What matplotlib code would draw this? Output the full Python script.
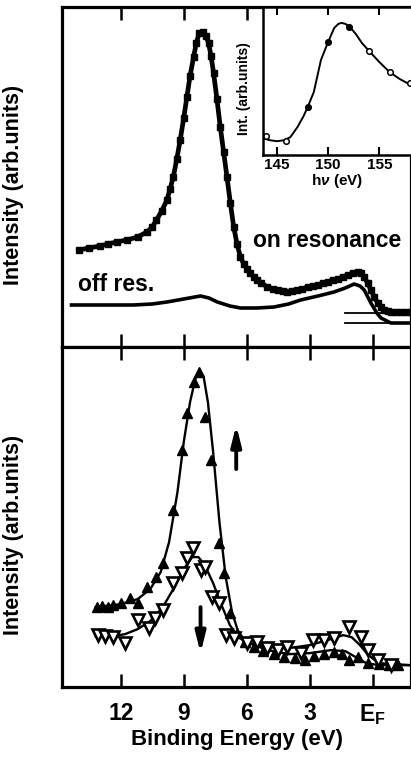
import matplotlib.pyplot as plt
import numpy as np

plt.rcParams['font.family'] = ['Liberation Sans', 'DejaVu Sans']
plt.rcParams['font.weight'] = 'bold'
plt.rcParams['mathtext.fontset'] = 'custom'
plt.rcParams['mathtext.rm'] = 'Liberation Sans:bold'
plt.rcParams['mathtext.bf'] = 'Liberation Sans:bold'
plt.rcParams['mathtext.it'] = 'Liberation Sans:bold:italic'

# upper panel: on / off resonance spectra (binding energy, intensity)
on_e = [14.0, 13.5, 13.0, 12.6, 12.2, 11.7, 11.2, 10.75, 10.5, 10.3, 10.05, 9.8, 9.65,
        9.5, 9.33, 9.17, 9.0, 8.85, 8.7, 8.53, 8.4, 8.26, 8.06, 7.94, 7.82, 7.7, 7.58,
        7.42, 7.26, 7.1, 6.94, 6.78, 6.62, 6.46, 6.3, 6.14, 5.98, 5.82, 5.66, 5.5,
        5.3, 5.02, 4.75, 4.5, 4.28, 4.06, 3.83, 3.6, 3.35, 3.1, 2.85, 2.6, 2.37,
        2.14, 1.9, 1.65, 1.42, 1.18, 0.95, 0.7, 0.55, 0.4, 0.24, 0.08, -0.08, -0.25,
        -0.4, -0.55, -0.72, -0.9, -1.1, -1.35, -1.6, -1.83]
on_i = [97, 99, 101, 103, 105, 107, 110, 115, 120, 127, 136, 147, 158,
        170, 188, 207, 229, 250, 271, 290, 304, 314, 315, 311, 304, 291, 274,
        248, 220, 195, 170, 144, 120, 103, 90, 83, 78, 74, 70, 67,
        64, 60, 58, 57, 56, 55, 56, 57, 58, 60, 61, 62, 64,
        65, 67, 68, 70, 72, 74, 75, 74, 70, 64, 57, 50, 44,
        40, 37, 36, 35, 35, 35, 35, 35]
off_e = [14.35, 12.5, 11.4, 10.5, 9.8, 9.0, 8.2, 7.8, 7.4, 6.8, 6.3, 5.5, 4.7,
         4.0, 3.43, 2.6, 1.84, 1.3, 0.88, 0.6, 0.4, 0.08, -0.2, -0.4, -0.87, -1.83]
off_i = [42, 42, 42, 43, 45, 48, 51, 49, 45, 41, 39, 39, 40,
         43, 47, 51, 55, 59, 63, 61, 57, 44, 34, 29, 24, 24]
base_e = [1.3, -1.83]
base_on = [34, 34]
base_off = [24, 24]

# inset: resonance intensity vs photon energy
hv_pts = [143.9, 145.9, 148.0, 150.0, 152.0, 154.0, 156.0, 158.0]
int_pts = [19, 14, 48, 113, 128, 104, 83, 72]
filled_pts = [False, False, True, True, True, False, False, False]
hv_fit = [143.6, 144.3, 145.0, 145.7, 146.3, 147.0, 147.6, 148.0, 148.6, 149.3, 150.0,
          150.6, 151.0, 151.3, 151.7, 152.2, 152.7, 153.3, 154.0, 155.0, 156.0, 157.0,
          158.1]
int_fit = [17, 15, 14, 15, 18, 28, 39, 48, 63, 95, 113,
           127, 131, 132, 131, 127, 121, 112, 104, 93, 83, 76,
           70]

# lower panel: filled (up) and open (down) triangles
up_e = [13.15, 12.9, 12.6, 12.35, 12.0, 11.55, 11.17, 10.75, 10.3, 9.98, 9.5, 9.1,
        8.85, 8.53, 8.28, 7.97, 7.7, 7.33, 7.1, 6.78, 6.45, 6.1, 5.66, 5.2, 4.7,
        4.2, 3.7, 3.2, 2.8, 2.3, 1.84, 1.45, 1.12, 0.7, 0.2, -0.3, -0.8, -1.2]
up_i = [80, 81, 80, 82, 84, 89, 84, 100, 110, 124, 177, 237,
        274, 305, 315, 270, 227, 144, 114, 74, 54, 45, 40, 36, 33,
        30, 29, 27, 31, 33, 35, 33, 27, 30, 24, 23, 22, 22]
dn_e = [13.1, 12.75, 12.35, 11.8, 11.2, 10.68, 10.35, 9.98, 9.5, 9.1, 8.85, 8.58,
        8.2, 7.97, 7.65, 7.33, 7.0, 6.62, 5.98, 5.5, 5.02, 4.5, 4.06, 3.43,
        2.85, 2.3, 1.84, 1.12, 0.55, 0.2, -0.25, -0.87]
dn_i = [52, 51, 50, 44, 67, 59, 69, 77, 104, 114, 129, 139,
        117, 120, 90, 84, 52, 49, 44, 45, 39, 37, 40, 34,
        47, 47, 49, 60, 50, 37, 27, 22]
up_fit_e = [13.2, 12.0, 11.2, 10.6, 10.1, 9.7, 9.3, 9.0, 8.7, 8.45, 8.25, 8.05,
            7.85, 7.6, 7.3, 7.0, 6.7, 6.4, 6.0, 5.0, 4.0, 3.0, 2.0, 1.3, 0.8,
            0.3, -0.3, -1.83]
up_fit_i = [80, 83, 88, 98, 115, 145, 195, 245, 285, 308, 317, 310,
            285, 235, 165, 110, 75, 55, 45, 37, 33, 34, 37, 36, 30,
            24, 22, 22]
dn_fit_e = [13.2, 12.4, 11.8, 11.2, 10.6, 10.0, 9.5, 9.0, 8.6, 8.3, 8.0, 7.6,
            7.2, 6.8, 6.4, 6.0, 5.0, 4.0, 3.0, 2.0, 1.4, 1.0, 0.6, 0.2, -0.3, -1.83]
dn_fit_i = [51, 51, 53, 58, 66, 80, 98, 118, 130, 130, 122, 104,
            82, 62, 50, 45, 40, 39, 42, 48, 52, 50, 42, 32, 24, 22]

e_ticks = [12, 9, 6, 3, 0]
e_labels = ['12', '9', '6', '3', r'$\mathbf{E_F}$']
hv_ticks = [145, 150, 155]

fig = plt.figure(figsize=(4.11, 7.61), dpi=100)
ax1 = fig.add_axes([0.151, 0.544, 0.849, 0.447])
ax2 = fig.add_axes([0.151, 0.097, 0.849, 0.447])
ins = fig.add_axes([0.639, 0.796, 0.361, 0.195])

for ax in (ax1, ax2):
    ax.set_xlim(14.8, -1.83)
    ax.set_ylim(0, 340)
    ax.set_yticks([])
    ax.set_xticks(e_ticks)
    for s in ax.spines.values():
        s.set_linewidth(2.3)
    ax.tick_params(axis='x', direction='in', length=9.5, width=1.8,
                   top=True, labelsize=16.5, pad=11)
    ax.set_ylabel('Intensity (arb.units)', fontsize=15.5, fontweight='bold')

ax1.tick_params(axis='x', labelbottom=False)
ax1.yaxis.set_label_coords(-0.108, 0.476)
ax2.yaxis.set_label_coords(-0.108, 0.447)
ax2.set_xticklabels(e_labels)
ax2.set_xlabel('Binding Energy (eV)', fontsize=16, fontweight='bold', labelpad=1)

# upper panel
ax1.plot(base_e, base_on, color='black', lw=1.3)
ax1.plot(base_e, base_off, color='black', lw=1.3)
ax1.plot(off_e, off_i, color='black', lw=2.6)
ax1.plot(on_e, on_i, color='black', lw=3.4, marker='s', ms=4)
ax1.text(5.68, 106, 'on resonance', fontsize=16.5, fontweight='bold', va='center')
ax1.text(14.05, 62, 'off res.', fontsize=16.5, fontweight='bold', va='center')

# lower panel
ax2.plot(up_fit_e, up_fit_i, color='black', lw=1.7)
ax2.plot(dn_fit_e, dn_fit_i, color='black', lw=1.7)
ax2.plot(up_e, up_i, ls='none', marker='^', ms=7.5, color='black')
ax2.plot(dn_e, dn_i, ls='none', marker='v', ms=8, mfc='white', mec='black', mew=1.9)
arrow = dict(arrowstyle='-|>,head_length=1.2,head_width=0.3',
             color='black', lw=2.8, mutation_scale=10, shrinkA=0, shrinkB=0)
ax2.annotate('', xy=(6.5, 262), xytext=(6.5, 218), arrowprops=arrow)
ax2.annotate('', xy=(8.2, 34), xytext=(8.2, 80), arrowprops=arrow)

# inset
ins.set_xlim(143.6, 158.1)
ins.set_ylim(0, 148)
ins.set_yticks([])
ins.set_xticks(hv_ticks)
for s in ins.spines.values():
    s.set_linewidth(1.8)
ins.spines['right'].set_visible(False)
ins.tick_params(axis='x', direction='in', length=6, width=1.5, top=True,
                labelsize=11, pad=2)
ins.plot(hv_fit, int_fit, color='black', lw=1.4)
for h, v, f in zip(hv_pts, int_pts, filled_pts):
    ins.plot(h, v, ls='none', marker='o', ms=4, mec='black', mew=1.1,
             mfc='black' if f else 'white', clip_on=False)
ins.set_xlabel(r'h$\nu$ (eV)', fontsize=11, fontweight='bold', labelpad=0)
ins.set_ylabel('Int. (arb.units)', fontsize=10, fontweight='bold')
ins.yaxis.set_label_coords(-0.08, 0.446)

fig.savefig('out.png', dpi=100)
